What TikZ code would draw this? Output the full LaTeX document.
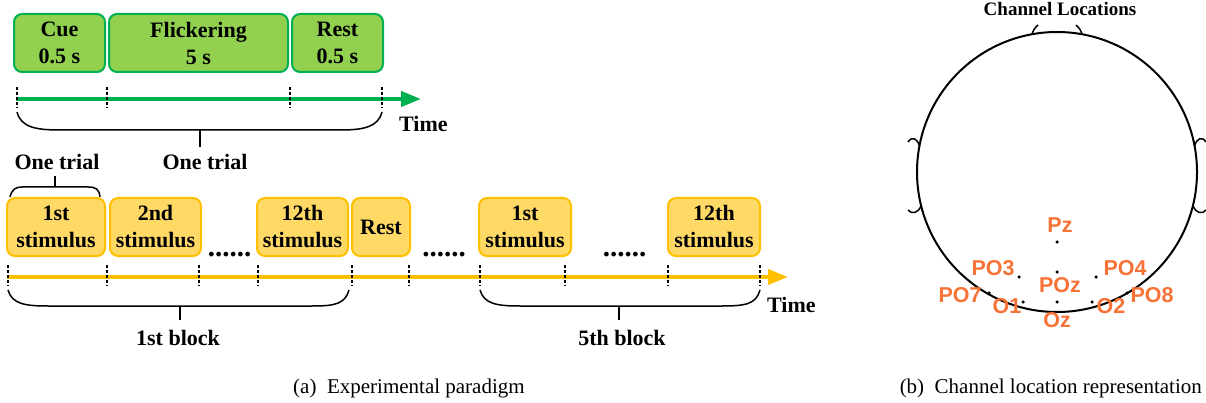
\documentclass[tikz,border=0pt]{standalone}
\usepackage{fontspec}
\setmainfont{Liberation Serif}
\newfontfamily\elecfont{Liberation Sans}
\usetikzlibrary{arrows.meta}
\definecolor{verdeborda}{RGB}{0,176,80}
\definecolor{verdefundo}{RGB}{146,208,80}
\definecolor{amareloborda}{RGB}{255,192,0}
\definecolor{amarelofundo}{RGB}{255,217,102}
\definecolor{laranja}{RGB}{247,114,54}
\begin{document}
\begin{tikzpicture}[x=1pt, y=-1pt,
    caixa/.style={line width=2pt, rounded corners=8pt, minimum height=58pt,
      inner sep=0pt, align=center, font=\bfseries\fontsize{22}{27}\selectfont},
    caixaverde/.style={caixa, draw=verdeborda, fill=verdefundo},
    caixaamarela/.style={caixa, draw=amareloborda, fill=amarelofundo},
    eixo/.style={line width=4pt, -{Triangle[length=20pt,width=15pt]}},
    marca/.style={dash pattern=on 3pt off 2pt, line width=1.2pt},
    chave/.style={line width=1.5pt},
    rotulo/.style={inner sep=0pt, font=\bfseries\fontsize{22}{27}\selectfont},
    reticencias/.style={inner sep=0pt, font=\bfseries\fontsize{29}{30}\selectfont},
    eletrodo/.style={inner sep=0pt, text=laranja, font=\elecfont\bfseries\fontsize{21.5}{24}\selectfont},
    ponto/.style={circle, fill=black, inner sep=0pt, minimum size=3.5pt}]
  \useasboundingbox (0,0) rectangle (1206,403);

  % Um ensaio
  \node[caixaverde, minimum width=91pt] (cue) at (59.5,43) {Cue\\0.5 s};
  \node[caixaverde, minimum width=179pt] (flick) at (198.5,43) {Flickering\\5 s};
  \node[caixaverde, minimum width=91pt] (restg) at (337.5,43) {Rest\\0.5 s};
  \coordinate (gini) at (16,99);
  \coordinate (gfim) at (421,99);
  \draw[eixo, verdeborda] (gini) -- (gfim); % Eixo verde
  \foreach \x in {17,107,290,382}
    \draw[marca] (\x,87) -- (\x,108);
  \draw[chave] (17,112) .. controls (21,127) and (35,130) .. (60,130) -- (340,130)
    .. controls (364,130) and (378,127) .. (382,112); % Chave
  \draw[chave] (200,130) -- (200,147);
  \node[rotulo, anchor=base west] (tempo1) at (399,132) {Time};
  \node[rotulo, anchor=base] (ensaio) at (205,170) {One trial};

  % Blocos
  \node[rotulo, anchor=base] (ensaio2) at (57,170) {One trial};
  \draw[chave] (10,197) .. controls (12,189) and (16,187) .. (22,187) -- (88,187)
    .. controls (96,187) and (99,189) .. (100,197);
  \draw[chave] (55,187) -- (55,176);
  \node[caixaamarela, minimum width=98pt] (est1) at (56,227) {1st\\stimulus};
  \node[caixaamarela, minimum width=91pt] (est2) at (155.5,227) {2nd\\stimulus};
  \node[reticencias, anchor=base] (pts1) at (229.5,256) {......};
  \node[caixaamarela, minimum width=91pt] (est12) at (302.5,227) {12th\\stimulus};
  \node[caixaamarela, minimum width=58pt] (resty) at (381,227) {Rest};
  \node[reticencias, anchor=base] (pts2) at (444,256) {......};
  \node[caixaamarela, minimum width=92pt] (est1b) at (525,227) {1st\\stimulus};
  \node[reticencias, anchor=base] (pts3) at (624.5,256) {......};
  \node[caixaamarela, minimum width=92pt] (est12b) at (714,227) {12th\\stimulus};
  \coordinate (aini) at (7,277);
  \coordinate (afim) at (788,277);
  \draw[eixo, amareloborda] (aini) -- (afim); % Eixo amarelo
  \foreach \x in {8,107,199,258,352,409,480,565,668,760}
    \draw[marca] (\x,265) -- (\x,286);
  \draw[chave] (8,290) .. controls (12,304) and (25,306) .. (48,306) -- (312,306)
    .. controls (335,306) and (345,304) .. (349,290);
  \draw[chave] (180,306) -- (180,320);
  \draw[chave] (480,290) .. controls (484,304) and (497,306) .. (520,306) -- (722,306)
    .. controls (746,306) and (756,304) .. (760,290);
  \draw[chave] (619,306) -- (619,320);
  \node[rotulo, anchor=base] (bloco1) at (178,345) {1st block};
  \node[rotulo, anchor=base] (bloco5) at (622,345) {5th block};
  \node[rotulo, anchor=base west] (tempo2) at (767,312) {Time};

  % Cabeca
  \node[inner sep=0pt, anchor=base, font=\bfseries\fontsize{19}{22}\selectfont] (titulo)
    at (1060,16) {Channel Locations};
  \draw[line width=2pt] (1057,172) circle (140); % Cabeca
  \draw[line width=1.5pt] (1032,34) .. controls (1034,29) .. (1038,25); % Nariz
  \draw[line width=1.5pt] (1082,34) .. controls (1080,29) .. (1076,25);
  \draw[line width=1.5pt] (908,142) .. controls (912,136) and (917,138) .. (919.5,146); % Orelhas
  \draw[line width=1.5pt] (908,210) .. controls (912,215) and (918,213) .. (921,206);
  \draw[line width=1.5pt] (1206,142) .. controls (1202,136) and (1197,138) .. (1194.5,146);
  \draw[line width=1.5pt] (1206,210) .. controls (1202,215) and (1196,213) .. (1193,206);
  \foreach \nome/\px/\py/\lx/\ly in {Pz/1057/242/1060/225, POz/1057/272/1060/285,
      Oz/1057/302/1057/320, PO3/1019/277/993/268, PO4/1096/277/1125/268,
      PO7/989/293/960/295, PO8/1127/293/1152/295, O1/1023/302/1007/306,
      O2/1092/302/1111/306} {
    \node[ponto] (d\nome) at (\px,\py) {};
    \node[eletrodo] (r\nome) at (\lx,\ly) {\nome};
  }

  % Legendas
  \node[inner sep=0pt, anchor=base west, font=\fontsize{21}{25}\selectfont] (lega)
    at (293,393) {(a)\ \ Experimental paradigm};
  \node[inner sep=0pt, anchor=base east, font=\fontsize{21}{25}\selectfont] (legb)
    at (1202,393) {(b)\ \ Channel location representation};
\end{tikzpicture}
\end{document}
